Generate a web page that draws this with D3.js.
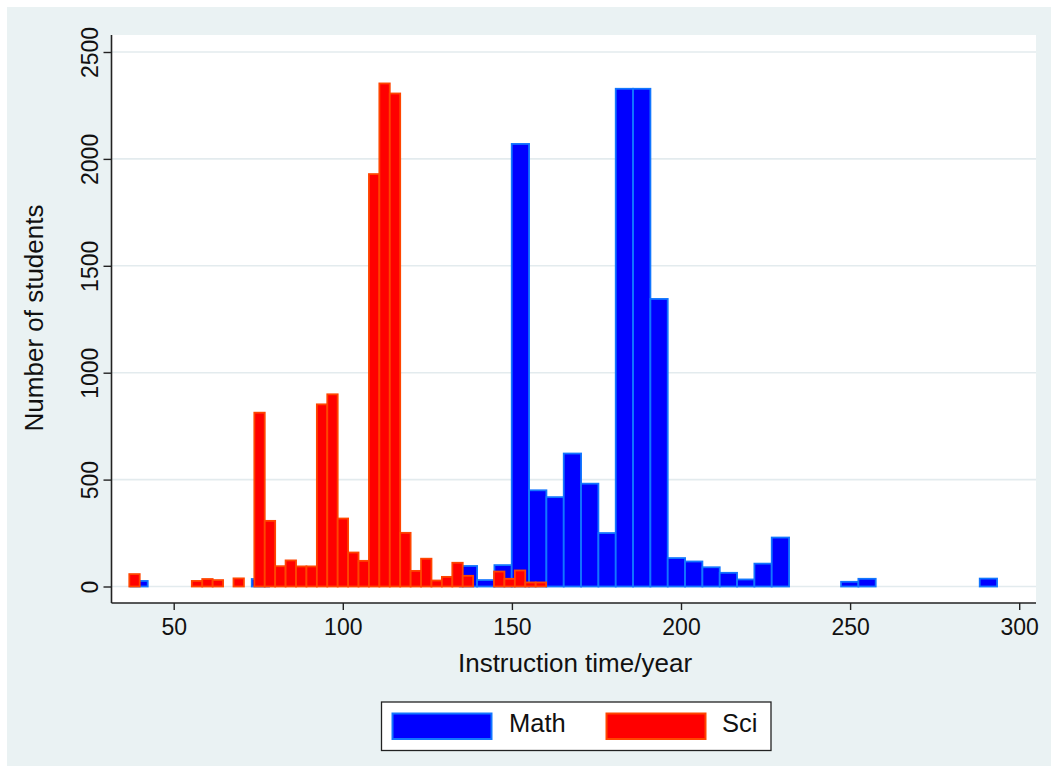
<!DOCTYPE html>
<html>
<head>
<meta charset="utf-8">
<script src="https://cdn.jsdelivr.net/npm/d3@7"></script>
<style>
  html, body { margin: 0; padding: 0; background: #ffffff; }
  svg { display: block; font-family: "Liberation Sans", Arial, sans-serif; }
</style>
</head>
<body>
<svg id="chart" width="1051" height="773"></svg>
<script>
// ---- Data ----
const seriesNames = ["Math", "Sci"];

// Math: lower edges of non-empty bins and their counts
const mathBinWidth = 5.125;
const mathBinStarts = [37.2, 73.08, 134.58, 139.70, 144.83, 149.95, 155.08, 160.20, 165.33, 170.45,
  175.58, 180.70, 185.83, 190.95, 196.08, 201.20, 206.33, 211.45, 216.58, 221.70, 226.83,
  247.33, 252.45, 288.33];
const mathCounts = [26, 35, 96, 30, 100, 2070, 450, 418, 622, 481,
  250, 2328, 2328, 1345, 133, 117, 90, 64, 33, 107, 229,
  22, 36, 37];

// Sci: lower edges of non-empty bins and their counts
const sciBinWidth = 3.081;
const sciBinStarts = [36.87, 55.36, 58.44, 61.52, 67.68, 73.84, 76.92, 80.00, 83.09, 86.17,
  89.25, 92.33, 95.41, 98.49, 101.57, 104.65, 107.73, 110.81, 113.89, 116.97,
  120.06, 123.14, 126.22, 129.30, 132.38, 135.46, 144.71, 147.79, 150.87, 153.95, 157.03];
const sciCounts = [58, 26, 35, 30, 38, 813, 307, 95, 122, 94,
  94, 852, 899, 318, 159, 120, 1929, 2353, 2306, 251,
  73, 130, 28, 45, 111, 50, 70, 36, 75, 19, 19];

const xTicks = [50, 100, 150, 200, 250, 300];
const yTicks = [0, 500, 1000, 1500, 2000, 2500];
const xTitle = "Instruction time/year";
const yTitle = "Number of students";

// ---- Layout ----
const svg = d3.select("#chart");
const W = 1051, H = 773;
const plot = { left: 111.5, right: 1036, top: 35, bottom: 603 };

const x = d3.scaleLinear().domain([50, 300]).range([173.7, 1019.2]);
const y = d3.scaleLinear().domain([0, 2500]).range([586.5, 52]);

// backgrounds
svg.append("rect").attr("x", 0).attr("y", 0).attr("width", W).attr("height", H).attr("fill", "#ffffff");
svg.append("rect").attr("x", 7).attr("y", 7).attr("width", W - 7).attr("height", H - 14).attr("fill", "#eaf2f3");
svg.append("rect").attr("x", plot.left).attr("y", plot.top)
  .attr("width", plot.right - plot.left).attr("height", plot.bottom - plot.top).attr("fill", "#ffffff");

// gridlines
svg.append("g").selectAll("line").data(yTicks).join("line")
  .attr("x1", plot.left).attr("x2", plot.right)
  .attr("y1", d => y(d)).attr("y2", d => y(d))
  .attr("stroke", "#e3ebee").attr("stroke-width", 1.6);

// bars
const colors = {
  Math: { fill: "#0000ff", stroke: "#1276ff" },
  Sci: { fill: "#ff0000", stroke: "#ff4500" }
};

function drawSeries(starts, counts, width, col) {
  const data = starts.map((s, i) => ({ x0: s, x1: s + width, v: counts[i] }));
  svg.append("g").selectAll("rect").data(data).join("rect")
    .attr("x", d => x(d.x0))
    .attr("width", d => x(d.x1) - x(d.x0))
    .attr("y", d => y(d.v))
    .attr("height", d => y(0) - y(d.v))
    .attr("fill", col.fill)
    .attr("stroke", col.stroke)
    .attr("stroke-width", 1.8);
}
drawSeries(mathBinStarts, mathCounts, mathBinWidth, colors.Math);
drawSeries(sciBinStarts, sciCounts, sciBinWidth, colors.Sci);

// axes
const xAxis = d3.axisBottom(x).tickValues(xTicks).tickSize(7).tickPadding(4).tickSizeOuter(0);
const gx = svg.append("g").attr("transform", `translate(0,${plot.bottom})`).call(xAxis);
gx.select(".domain").remove();
gx.selectAll(".tick line").attr("stroke", "#222").attr("stroke-width", 1.4);
gx.selectAll(".tick text").attr("font-size", 23).attr("fill", "#111")
  .attr("font-family", "Liberation Sans, Arial, sans-serif").attr("dy", "0.92em");
svg.append("line").attr("x1", plot.left).attr("x2", plot.right)
  .attr("y1", plot.bottom).attr("y2", plot.bottom).attr("stroke", "#222").attr("stroke-width", 1.6);

const yAxis = d3.axisLeft(y).tickValues(yTicks).tickSize(8).tickSizeOuter(0).tickFormat(d3.format("d"));
const gy = svg.append("g").attr("transform", `translate(${plot.left},0)`).call(yAxis);
gy.select(".domain").remove();
gy.selectAll(".tick line").attr("stroke", "#222").attr("stroke-width", 1.4);
gy.selectAll(".tick text").remove();
gy.selectAll(".tick").append("text")
  .attr("transform", "translate(-14,0) rotate(-90)")
  .attr("text-anchor", "middle")
  .attr("font-size", 23).attr("fill", "#111")
  .attr("font-family", "Liberation Sans, Arial, sans-serif")
  .text(d => d);
svg.append("line").attr("x1", plot.left).attr("x2", plot.left)
  .attr("y1", plot.top).attr("y2", plot.bottom).attr("stroke", "#222").attr("stroke-width", 1.6);

// axis titles
svg.append("text").attr("x", 575).attr("y", 672).attr("text-anchor", "middle")
  .attr("font-size", 26).attr("fill", "#111").text(xTitle);
svg.append("text").attr("transform", "translate(43,318) rotate(-90)").attr("text-anchor", "middle")
  .attr("font-size", 26).attr("fill", "#111").text(yTitle);

// legend
const lg = svg.append("g");
lg.append("rect").attr("x", 381.5).attr("y", 702).attr("width", 389.5).attr("height", 48.5)
  .attr("fill", "#ffffff").attr("stroke", "#222").attr("stroke-width", 1.3);
const legendItems = [
  { name: seriesNames[0], col: colors.Math, kx: 392.5, tx: 509 },
  { name: seriesNames[1], col: colors.Sci, kx: 606.5, tx: 722 }
];
legendItems.forEach(it => {
  lg.append("rect").attr("x", it.kx).attr("y", 713.5).attr("width", 99).attr("height", 25.5)
    .attr("fill", it.col.fill).attr("stroke", it.col.stroke).attr("stroke-width", 2);
  lg.append("text").attr("x", it.tx).attr("y", 732).attr("font-size", 25.5).attr("fill", "#111").text(it.name);
});
</script>
</body>
</html>
